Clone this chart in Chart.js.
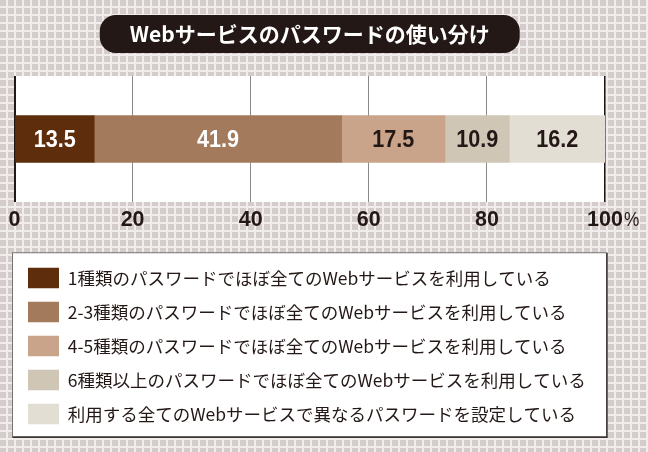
<!DOCTYPE html>
<html><head><meta charset="utf-8">
<script src="https://cdn.jsdelivr.net/npm/chart.js@4.4.1/dist/chart.umd.min.js"></script>
<style>
html,body{margin:0;padding:0;}
body{width:648px;height:452px;overflow:hidden;background-color:#d4ccca;
background-image:linear-gradient(to right,#f1edec 2px,transparent 2px),linear-gradient(to bottom,#f1edec 2px,transparent 2px);
background-size:8px 8px;background-position:6px 6px;}
canvas{display:block;}
</style></head><body>
<canvas id="c" width="648" height="452"></canvas>
<script>
const chartTitle = 'Webサービスのパスワードの使い分け';
const categories = [''];
const seriesLabels = [
  '1種類のパスワードでほぼ全てのWebサービスを利用している',
  '2-3種類のパスワードでほぼ全てのWebサービスを利用している',
  '4-5種類のパスワードでほぼ全てのWebサービスを利用している',
  '6種類以上のパスワードでほぼ全てのWebサービスを利用している',
  '利用する全てのWebサービスで異なるパスワードを設定している'
];
const seriesValues = [13.5, 41.9, 17.5, 10.9, 16.2];
const seriesColors = ['#5e2e0c', '#a37a5c', '#c9a48b', '#cfc6b6', '#e3ded4'];
const valueLabelColors = ['#ffffff', '#ffffff', '#231815', '#231815', '#231815'];
const tickValues = [0, 20, 40, 60, 80, 100];
const tickLabels = ['0', '20', '40', '60', '80', '100'];
const tickSuffix = '%';

const SANS = '"Liberation Sans", Arial, sans-serif';
const JP = '"Noto Sans CJK JP", "Noto Sans", sans-serif';
const INK = '#231815';
const TICK_SIZE = 21.5;
const TICK_PAD = 5;

const bgPlugin = {
  id: 'bgPlugin',
  beforeDraw(chart) {
    const {ctx, chartArea: a} = chart;
    ctx.save();
    const tb = chart.titleBlock;
    if (tb) {
      ctx.font = 'bold 21px ' + JP;
      const w = ctx.measureText(chartTitle).width + 60;
      const cx = (tb.left + tb.right) / 2;
      const cy = tb.top + tb.options.padding.top + 12.6;
      ctx.fillStyle = INK;
      ctx.beginPath();
      ctx.roundRect(cx - w / 2, cy - 19, w, 38, 16);
      ctx.fill();
    }
    ctx.fillStyle = '#ffffff';
    ctx.fillRect(a.left, a.top, a.right - a.left, a.bottom - a.top);
    const lg = chart.legend;
    if (lg) {
      const x0 = 12.5, x1 = a.right + 1.5, y0 = lg.top - 1.5, y1 = lg.bottom + 2.5;
      ctx.fillStyle = '#ffffff';
      ctx.fillRect(x0, y0, x1 - x0, y1 - y0);
      ctx.strokeStyle = '#7a7472';
      ctx.lineWidth = 1;
      ctx.strokeRect(x0, y0, x1 - x0, y1 - y0);
      ctx.strokeStyle = '#3c3432';
      ctx.lineWidth = 1.5;
      ctx.beginPath();
      ctx.moveTo(x0, y1 + 0.5); ctx.lineTo(x1 + 0.5, y1 + 0.5); ctx.lineTo(x1 + 0.5, y0);
      ctx.stroke();
    }
    ctx.restore();
  }
};

const valueLabelPlugin = {
  id: 'valueLabels',
  afterDatasetsDraw(chart) {
    const ctx = chart.ctx;
    chart.data.datasets.forEach((ds, i) => {
      const meta = chart.getDatasetMeta(i);
      meta.data.forEach((el, j) => {
        const p = el.getCenterPoint();
        ctx.save();
        ctx.translate(p.x, p.y + 1);
        ctx.scale(0.9, 1);
        ctx.font = 'bold 24px ' + SANS;
        ctx.textAlign = 'center';
        ctx.textBaseline = 'middle';
        ctx.fillStyle = valueLabelColors[i];
        ctx.fillText(ds.data[j].toFixed(1), 0, 0);
        ctx.restore();
      });
    });
  }
};

const suffixPlugin = {
  id: 'suffix',
  afterDraw(chart) {
    const s = chart.scales.x;
    const ctx = chart.ctx;
    ctx.save();
    ctx.font = 'bold ' + TICK_SIZE + 'px ' + SANS;
    const w = ctx.measureText(tickLabels[tickLabels.length - 1]).width;
    const px = s.getPixelForValue(tickValues[tickValues.length - 1]);
    ctx.translate(px + w / 2 + 1, s.top + TICK_PAD + TICK_SIZE * 0.6);
    ctx.scale(0.82, 1);
    ctx.font = '21px ' + SANS;
    ctx.fillStyle = INK;
    ctx.textAlign = 'left';
    ctx.textBaseline = 'middle';
    ctx.fillText(tickSuffix, 0, 0);
    ctx.restore();
  }
};

new Chart(document.getElementById('c'), {
  type: 'bar',
  data: {
    labels: categories,
    datasets: seriesLabels.map((lab, i) => ({
      label: lab,
      data: [seriesValues[i]],
      backgroundColor: seriesColors[i],
      borderWidth: 0,
      barThickness: 47
    }))
  },
  options: {
    indexAxis: 'y',
    responsive: false,
    animation: false,
    layout: { padding: { left: 14.5, right: 43, top: 0, bottom: 17.75 } },
    scales: {
      x: {
        stacked: true,
        min: 0, max: 100,
        afterBuildTicks: s => { s.ticks = tickValues.map(v => ({ value: v })); },
        afterFit: s => { s.height = 52.25; },
        border: { display: false },
        grid: {
          drawTicks: false,
          color: c => (c.tick && (c.tick.value === 0 || c.tick.value === 100)) ? INK : '#8c8886',
          lineWidth: c => (c.tick && c.tick.value === 0) ? 2 : (c.tick && c.tick.value === 100 ? 1.5 : 1)
        },
        ticks: {
          padding: TICK_PAD,
          color: INK,
          font: { family: SANS, weight: 'bold', size: TICK_SIZE },
          maxRotation: 0,
          callback: (v, i) => tickLabels[i]
        }
      },
      y: { stacked: true, display: false }
    },
    plugins: {
      title: {
        display: true,
        text: chartTitle,
        color: '#ffffff',
        font: { family: JP, weight: 'bold', size: 21 },
        padding: { top: 21.4, bottom: 29.4 }
      },
      legend: {
        display: true,
        position: 'bottom',
        align: 'start',
        labels: {
          boxWidth: 31,
          boxHeight: 20.5,
          padding: 13.5,
          color: INK,
          font: { family: JP, size: 17.5 }
        }
      },
      tooltip: { enabled: false }
    }
  },
  plugins: [bgPlugin, valueLabelPlugin, suffixPlugin]
});
</script>
</body></html>
